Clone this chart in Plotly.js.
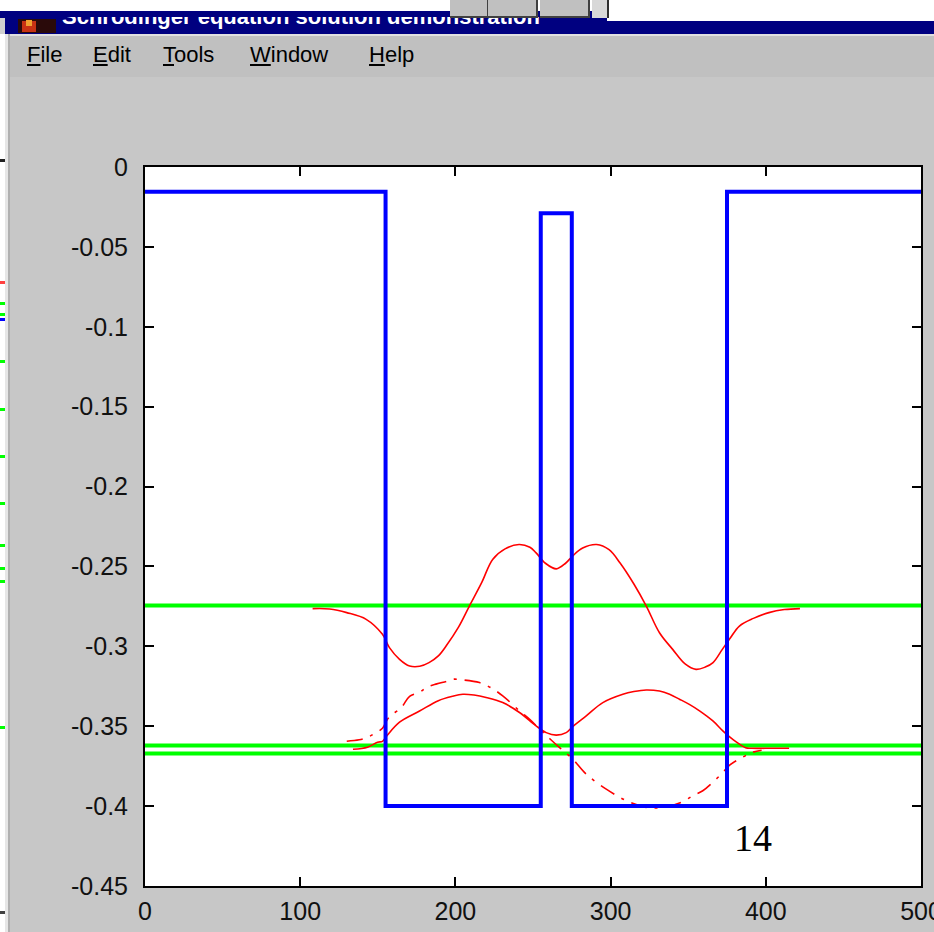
<!DOCTYPE html>
<html>
<head>
<meta charset="utf-8">
<script src="https://cdn.plot.ly/plotly-3.0.1.min.js"></script>
<style>
  html, body { margin: 0; padding: 0; background: #c7c7c7; }
  #wrap { position: relative; width: 934px; height: 932px; overflow: hidden; }
  #plot { position: absolute; left: 0; top: 0; width: 934px; height: 932px; }
  .abs { position: absolute; }
  .menu { position: absolute; top: 44px; font-family: "Liberation Sans", Arial, sans-serif; font-size: 22px; line-height: 22px; color: #000; }
</style>
</head>
<body>
<div id="wrap">
  <div id="plot"></div>
  <!-- window chrome -->
  <div class="abs" style="left:0;top:0;width:934px;height:21px;background:#fff;"></div>
  <div class="abs" style="left:0;top:11px;width:607px;height:23px;background:#000080;"></div>
  <div class="abs" style="left:607px;top:21px;width:327px;height:13px;background:#000080;"></div>
  <div class="abs" style="left:62px;top:17px;width:580px;height:12px;overflow:hidden;">
    <div class="abs" style="left:0;top:-11px;font-family:'Liberation Sans',Arial,sans-serif;font-weight:bold;font-size:22px;line-height:22px;color:#fff;white-space:nowrap;">Schrodinger equation solution demonstration</div>
  </div>
  <div class="abs" style="left:607px;top:0;width:327px;height:21px;background:#fff;"></div>
  <div class="abs" style="left:0;top:18px;width:5px;height:16px;background:#d0d0d0;"></div>
  <div class="abs" style="left:18px;top:19px;width:38px;height:14px;background:#2a0a0a;"></div>
  <div class="abs" style="left:22px;top:21px;width:14px;height:11px;background:#c83214;"></div>
  <div class="abs" style="left:26px;top:20px;width:6px;height:6px;background:#f0a030;"></div>
  <!-- buttons -->
  <div class="abs" style="left:450px;top:0;width:37px;height:16px;background:#c0c0c0;border-bottom:2px solid #404040;border-right:2px solid #404040;"></div>
  <div class="abs" style="left:488px;top:0;width:48px;height:16px;background:#c0c0c0;border-bottom:2px solid #404040;border-right:2px solid #404040;"></div>
  <div class="abs" style="left:540px;top:0;width:48px;height:16px;background:#c0c0c0;border-bottom:2px solid #404040;border-right:2px solid #404040;"></div>
  <div class="abs" style="left:592px;top:0;width:15px;height:18px;background:#d8d8d8;border-right:2px solid #303030;"></div>
  <!-- menu bar -->
  <div class="abs" style="left:0;top:34px;width:934px;height:2px;background:#e0e0e0;"></div>
  <div class="abs" style="left:0;top:36px;width:934px;height:41px;background:#c0c0c0;"></div>
  <div class="menu" style="left:27px;"><u>F</u>ile</div>
  <div class="menu" style="left:93px;"><u>E</u>dit</div>
  <div class="menu" style="left:163px;"><u>T</u>ools</div>
  <div class="menu" style="left:250px;"><u>W</u>indow</div>
  <div class="menu" style="left:369px;"><u>H</u>elp</div>
  <!-- left strip -->
  <div class="abs" style="left:0;top:34px;width:5px;height:898px;background:#fff;"></div>
  <div class="abs" style="left:5px;top:34px;width:3px;height:898px;background:#e6e6e6;"></div>
  <div class="abs" style="left:8px;top:34px;width:2px;height:898px;background:#b0b0b0;"></div>
  <div id="marks"></div>
</div>
<script>
// ---------- data ----------
var potX = [0, 155, 155, 255, 255, 275, 275, 375, 375, 500];
var potY = [-0.0155, -0.0155, -0.4, -0.4, -0.029, -0.029, -0.4, -0.4, -0.0155, -0.0155];

var levelX = [0, 500];
var levels = [-0.2745, -0.362, -0.367];

var psi3X = [108, 119, 130, 142.5, 153, 157.5, 164, 170.5, 177, 183, 189, 194, 202, 209, 217, 224, 232, 241, 248, 252, 258, 265, 271, 275.5, 282, 291, 299, 306, 315, 323, 331.5, 340, 348, 355, 361, 366, 372, 377, 383, 392, 402, 412, 422];
var psi3Y = [-0.2764, -0.2766, -0.2789, -0.2831, -0.2925, -0.3008, -0.3081, -0.3123, -0.3125, -0.3102, -0.3060, -0.2998, -0.2880, -0.2748, -0.2600, -0.2456, -0.2390, -0.2363, -0.2380, -0.2415, -0.2480, -0.2515, -0.2480, -0.2435, -0.2385, -0.2363, -0.2395, -0.2477, -0.2610, -0.2748, -0.2915, -0.3019, -0.3110, -0.3144, -0.3130, -0.3102, -0.3019, -0.2950, -0.2873, -0.2825, -0.2789, -0.2770, -0.2764];

var psi1X = [134, 143.4, 149.8, 153, 155.6, 164, 176.9, 189, 198, 204.8, 212, 219.8, 230.5, 241.3, 252, 258.5, 265, 271.4, 275.6, 284.3, 295, 307.9, 315, 322.9, 331.5, 338, 344.4, 351, 357.3, 365.9, 372.3, 376.5, 380.9, 387, 391, 404, 415];
var psi1Y = [-0.3644, -0.3631, -0.3600, -0.3595, -0.3563, -0.3475, -0.3405, -0.3340, -0.3313, -0.3300, -0.3305, -0.3320, -0.3352, -0.3414, -0.3498, -0.3540, -0.3556, -0.3540, -0.3502, -0.3435, -0.3352, -0.3300, -0.3283, -0.3273, -0.3280, -0.3300, -0.3331, -0.3365, -0.3404, -0.3467, -0.3529, -0.3565, -0.3598, -0.3635, -0.3638, -0.3638, -0.3638];

var psi2X = [130, 138, 143.4, 148, 153, 156.2, 158.8, 165.3, 170.5, 177, 181.5, 188, 194.4, 198.3, 204.8, 215.5, 223, 230.5, 241.3, 247.7, 255, 261, 267, 275.6, 284.3, 297.2, 310, 322.9, 329, 334.7, 345.5, 353, 359.4, 366, 372.3, 376.7, 385, 391.5, 397.3];
var psi2Y = [-0.3594, -0.3585, -0.3569, -0.3545, -0.3513, -0.3456, -0.3431, -0.3381, -0.3313, -0.3288, -0.3256, -0.3235, -0.3219, -0.3206, -0.3210, -0.3227, -0.3260, -0.3310, -0.3404, -0.3456, -0.3525, -0.3580, -0.3633, -0.3706, -0.3800, -0.3894, -0.3965, -0.4008, -0.4012, -0.4008, -0.3977, -0.3935, -0.3904, -0.3850, -0.3790, -0.3744, -0.3694, -0.3663, -0.3650];

var xTicks = [0, 100, 200, 300, 400, 500];
var xTickText = ['0', '100', '200', '300', '400', '500'];
var yTicks = [0, -0.05, -0.1, -0.15, -0.2, -0.25, -0.3, -0.35, -0.4, -0.45];
var yTickText = ['0', '-0.05', '-0.1', '-0.15', '-0.2', '-0.25', '-0.3', '-0.35', '-0.4', '-0.45'];

var figLabel = '14';

// left-edge marks from the window behind
var markY = [160, 282, 303, 314, 319, 361, 409, 456, 503, 545, 568, 581, 727, 912];
var markC = ['#202020', '#ff4040', '#00ff00', '#00ff00', '#0000ff', '#00ff00', '#00ff00', '#00ff00', '#00ff00', '#00ff00', '#00ff00', '#00ff00', '#00ff00', '#404040'];

// ---------- chart ----------
var traces = [];
levels.forEach(function (e) {
  traces.push({ x: levelX, y: [e, e], mode: 'lines', line: { color: '#00ff00', width: 4 }, hoverinfo: 'skip' });
});
traces.push({ x: psi3X, y: psi3Y, mode: 'lines', line: { color: '#ff0000', width: 1.6, shape: 'spline' } });
traces.push({ x: psi1X, y: psi1Y, mode: 'lines', line: { color: '#ff0000', width: 1.6, shape: 'spline' } });
traces.push({ x: psi2X, y: psi2Y, mode: 'lines', line: { color: '#ff0000', width: 1.6, shape: 'spline', dash: '16px,8px,3px,8px' } });
traces.push({ x: potX, y: potY, mode: 'lines', line: { color: '#0000ff', width: 4 } });

var axFont = { family: 'Liberation Sans, Arial, sans-serif', size: 25, color: '#111' };

var layout = {
  width: 934, height: 932,
  margin: { l: 145, r: 13, t: 167, b: 46, pad: 0 },
  paper_bgcolor: '#c7c7c7',
  plot_bgcolor: '#ffffff',
  showlegend: false,
  xaxis: {
    range: [0, 500], tickvals: xTicks, ticktext: xTickText,
    ticks: 'inside', ticklen: 9, tickwidth: 2, tickcolor: '#000',
    showline: true, linecolor: '#000', linewidth: 2, mirror: 'ticks',
    showgrid: false, zeroline: false, tickfont: axFont, ticklabelstandoff: 2,
    ticklabeloverflow: 'allow'
  },
  yaxis: {
    range: [-0.45, 0], tickvals: yTicks, ticktext: yTickText,
    ticks: 'inside', ticklen: 9, tickwidth: 2, tickcolor: '#000',
    showline: true, linecolor: '#000', linewidth: 2, mirror: 'ticks',
    showgrid: false, zeroline: false, tickfont: axFont, ticklabelstandoff: 10,
    ticklabeloverflow: 'allow'
  },
  annotations: [{
    x: 392, y: -0.42, xref: 'x', yref: 'y', text: figLabel, showarrow: false,
    font: { family: 'Liberation Serif, Times New Roman, serif', size: 38, color: '#000' }
  }]
};

Plotly.newPlot('plot', traces, layout, { staticPlot: true, displayModeBar: false });

var marks = document.getElementById('marks');
markY.forEach(function (y, i) {
  var d = document.createElement('div');
  d.className = 'abs';
  d.style.cssText = 'left:0;top:' + (y - 1) + 'px;width:5px;height:3px;background:' + markC[i] + ';';
  marks.appendChild(d);
});
</script>
</body>
</html>
